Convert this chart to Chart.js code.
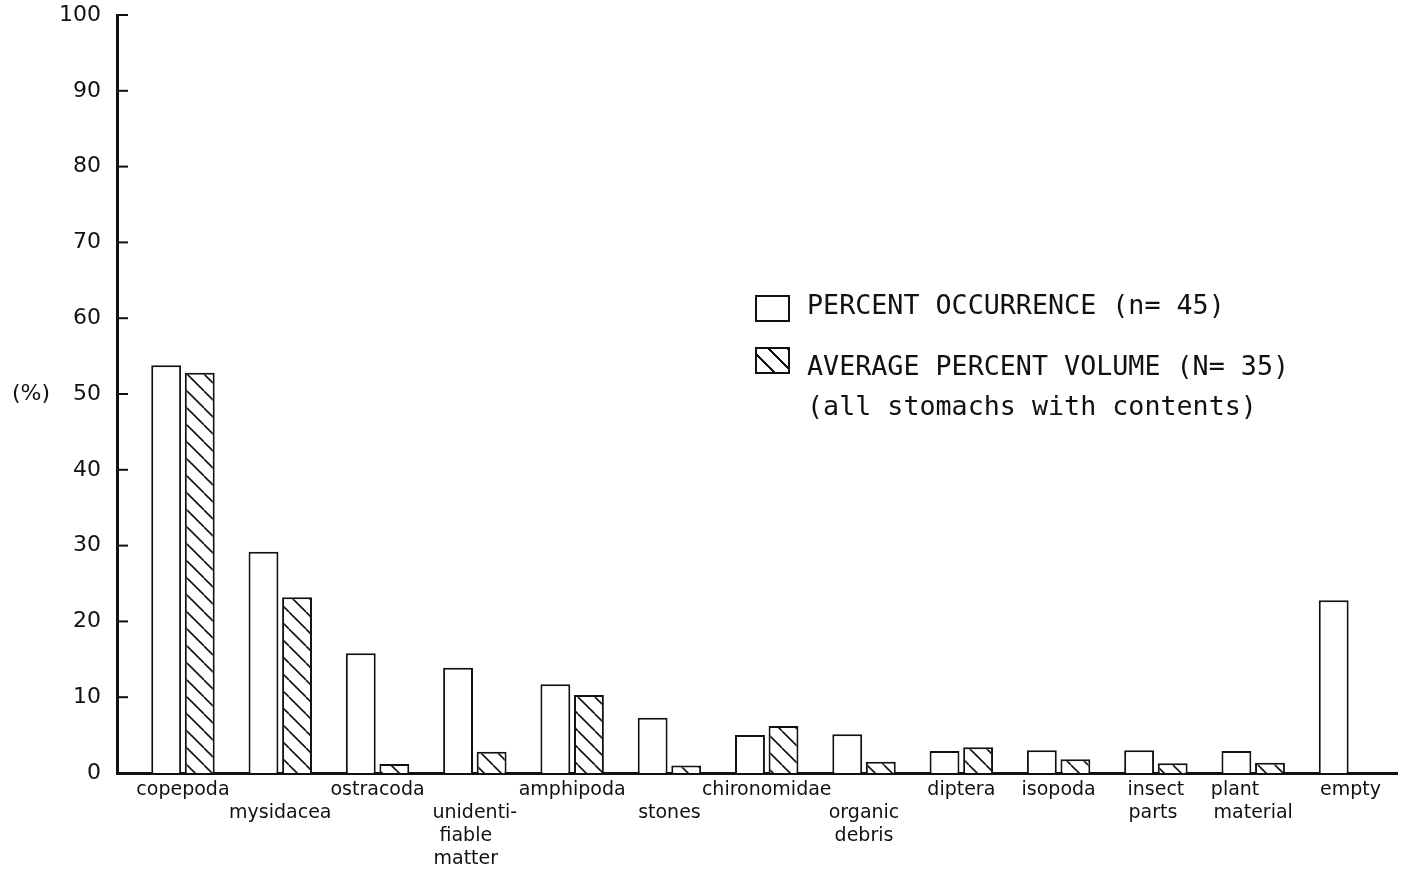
<!DOCTYPE html>
<html>
<head>
<meta charset="utf-8">
<script src="https://cdn.jsdelivr.net/npm/chart.js@4.4.1/dist/chart.umd.min.js"></script>
<style>
  body { margin: 0; background: #fff; }
  #wrap { position: relative; width: 1426px; height: 876px; }
  .leg { position: absolute; font-family: "DejaVu Sans Mono", monospace; font-size: 26.7px; line-height: 30px; color: #111; white-space: pre; }
  .box { position: absolute; width: 31px; height: 23px; border: 2px solid #111; background: #fff; }
  .hatch { background: repeating-linear-gradient(45deg, #fff 0 11px, #111 11px 13px); }
</style>
</head>
<body>
<div id="wrap">
  <canvas id="myChart"></canvas>
  <div class="box" style="left:755px; top:295px;"></div>
  <div class="leg" style="left:807px; top:290px;">PERCENT OCCURRENCE (n= 45)</div>
  <div class="box hatch" style="left:755px; top:347px;"></div>
  <div class="leg" style="left:807px; top:351px;">AVERAGE PERCENT VOLUME (N= 35)</div>
  <div class="leg" style="left:807px; top:391px;">(all stomachs with contents)</div>
</div>
<script>
// category labels, split into lines (leading '' pushes a label to the 2nd row)
const categories = [
  ['copepoda'], ['', 'mysidacea'], ['ostracoda'], ['', 'unidenti-', 'fiable   ', 'matter   '],
  ['amphipoda'], ['', 'stones'], ['chironomidae'], ['', 'organic', 'debris'],
  ['diptera'], ['isopoda'], ['insect', 'parts '], ['plant      ', 'material'], ['empty']
]
const occurrence = [53.8, 29.2, 15.8, 13.9, 11.7, 7.3, 5.0, 5.1, 2.9, 3.0, 3.0, 2.9, 22.8]
const volume = [52.8, 23.2, 1.2, 2.8, 10.3, 1.0, 6.2, 1.5, 3.4, 1.8, 1.3, 1.35, null]
const yTicks = [0, 10, 20, 30, 40, 50, 60, 70, 80, 90, 100]

function hatchPattern() {
    const s = 17
    const c = document.createElement('canvas')
    c.width = s; c.height = s
    const g = c.getContext('2d')
    g.fillStyle = '#fff'
    g.fillRect(0, 0, s, s)
    g.strokeStyle = '#111'
    g.lineWidth = 1.6
    for (let k = -1; k <= 1; k++) {
        g.beginPath()
        g.moveTo(k * s, 0)
        g.lineTo(k * s + s, s)
        g.stroke()
    }
    return g.createPattern(c, 'repeat')
}

const extras = {
    id: 'extras',
    afterDraw(chart) {
        const ctx = chart.ctx
        const y = chart.scales.y
        const left = chart.chartArea.left
        ctx.save()
        ctx.strokeStyle = '#111'
        ctx.lineWidth = 2
        y.ticks.forEach(t => {
            const py = y.getPixelForValue(t.value)
            ctx.beginPath()
            ctx.moveTo(left, py)
            ctx.lineTo(left + 11, py)
            ctx.stroke()
        })
        ctx.fillStyle = '#111'
        ctx.font = '22px "DejaVu Sans"'
        ctx.textBaseline = 'middle'
        ctx.fillText('(%)', 12, y.getPixelForValue(50))
        ctx.restore()
    }
}

function createChart() {
    const chartie = document.getElementById('myChart')
    new Chart(chartie, {
        type: 'bar',
        data: {
            datasets: [
                {
                    label: 'PERCENT OCCURRENCE (n= 45)',
                    data: occurrence.map((v, i) => ({ x: i, y: v })),
                    backgroundColor: '#fff',
                    borderColor: '#111',
                    borderWidth: 2
                },
                {
                    label: 'AVERAGE PERCENT VOLUME (N= 35)',
                    data: volume.map((v, i) => ({ x: i, y: v })),
                    backgroundColor: hatchPattern(),
                    borderColor: '#111',
                    borderWidth: 2
                }
            ]
        },
        options: {
            responsive: true,
            maintainAspectRatio: false,
            animation: false,
            categoryPercentage: 0.69,
            barPercentage: 0.89,
            layout: { padding: { top: 15, right: 29, left: 0, bottom: 0 } },
            plugins: { legend: { display: false }, tooltip: { enabled: false } },
            scales: {
                x: {
                    type: 'linear',
                    offset: false,
                    min: -0.678,
                    max: 12.478,
                    afterBuildTicks: s => { s.ticks = categories.map((c, i) => ({ value: i })) },
                    afterFit: s => { s.height = 103; s.paddingLeft = 0; s.paddingRight = 0 },
                    grid: { display: false, drawTicks: false },
                    border: { display: true, color: '#111', width: 3 },
                    ticks: {
                        autoSkip: false,
                        maxRotation: 0,
                        padding: 5,
                        color: '#111',
                        font: { family: 'DejaVu Sans', size: 19, lineHeight: 1.22 },
                        callback: v => categories[v]
                    }
                },
                y: {
                    min: 0,
                    max: 100,
                    afterBuildTicks: s => { s.ticks = yTicks.map(v => ({ value: v })) },
                    afterFit: s => { s.width = 117; s.paddingTop = 0; s.paddingBottom = 0 },
                    grid: { display: false, drawTicks: false },
                    border: { display: true, color: '#111', width: 3 },
                    ticks: {
                        padding: 16,
                        color: '#111',
                        font: { family: 'DejaVu Sans', size: 22 }
                    }
                }
            }
        },
        plugins: [extras]
    })
    console.log('chart created')
}

createChart()
</script>
</body>
</html>
